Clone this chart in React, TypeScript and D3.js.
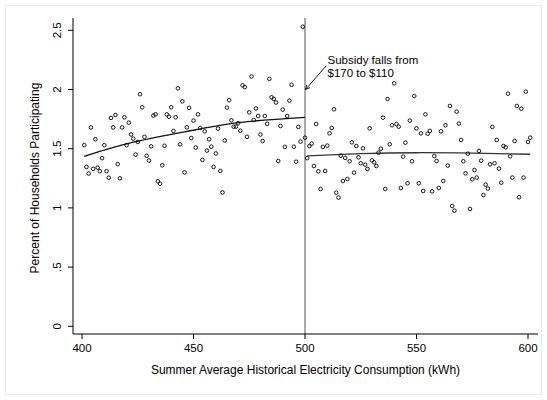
import React from "react";
import * as d3 from "d3";

// Percent of households participating, by summer average historical consumption (kWh)
const consumptionBelow: number[] = d3.range(401, 501);
const participationBelow: number[] = [
  1.53, 1.346, 1.29, 1.68, 1.33, 1.58, 1.34, 1.31, 1.42, 1.53,
  1.31, 1.255, 1.76, 1.68, 1.785, 1.37, 1.25, 1.68, 1.765, 1.53,
  1.72, 1.62, 1.585, 1.45, 1.557, 1.96, 1.85, 1.6, 1.44, 1.4,
  1.52, 1.78, 1.79, 1.225, 1.205, 1.36, 1.525, 1.79, 1.77, 1.85,
  1.65, 1.765, 2.01, 1.537, 1.9, 1.3, 1.68, 1.845, 1.59, 1.737,
  1.51, 1.79, 1.675, 1.405, 1.647, 1.484, 1.58, 1.517, 1.346, 1.46,
  1.67, 1.312, 1.13, 1.57, 1.847, 1.91, 1.74, 1.686, 1.686, 1.715,
  1.652, 2.035, 2.02, 1.6, 1.807, 2.11, 1.743, 1.84, 1.776, 1.62,
  1.565, 1.776, 1.71, 2.09, 1.934, 1.92, 1.89, 1.396, 1.692, 1.83,
  1.515, 1.776, 1.906, 2.04, 1.517, 1.39, 1.684, 1.56, 2.53, 1.593,
];
const consumptionAbove: number[] = d3.range(501, 602);
const participationAbove: number[] = [
  1.42, 1.523, 1.543, 1.354, 1.709, 1.309, 1.16, 1.515, 1.312, 1.526,
  1.63, 1.675, 1.833, 1.129, 1.087, 1.441, 1.227, 1.422, 1.244, 1.394,
  1.554, 1.298, 1.523, 1.427, 1.377, 1.503, 1.365, 1.329, 1.672, 1.402,
  1.385, 1.354, 1.467, 1.5, 1.762, 1.16, 1.92, 1.537, 1.698, 2.052,
  1.709, 1.686, 1.168, 1.433, 1.551, 1.208, 1.737, 1.394, 1.945, 1.672,
  1.208, 1.63, 1.143, 1.79, 1.627, 1.65, 1.14, 1.438, 1.396, 1.168,
  1.647, 1.227, 1.698, 1.357, 1.861, 1.016, 0.977, 1.813, 1.712, 1.574,
  1.394, 1.292, 1.458, 0.991, 1.242, 1.32, 1.256, 1.481, 1.399, 1.109,
  1.196, 1.163, 1.368, 1.684, 1.377, 1.574, 1.332, 1.213, 1.523, 1.512,
  1.965, 1.436, 1.256, 1.565, 1.861, 1.09, 1.838, 1.256, 1.982, 1.557,
  1.593,
];

// Fitted participation on each side of the threshold
const fitBelowX: number[] = [401, 424, 451, 471, 500];
const fitBelowY: number[] = [1.436, 1.559, 1.66, 1.723, 1.765];
const fitAboveX: number[] = [501, 525, 550, 575, 601];
const fitAboveY: number[] = [1.44, 1.458, 1.466, 1.462, 1.453];

const xTicks: number[] = [400, 450, 500, 550, 600];
const yTicks: number[] = [0, 0.5, 1, 1.5, 2, 2.5];
const yTickLabels: string[] = ["0", ".5", "1", "1.5", "2", "2.5"];
const annotationLines: string[] = ["Subsidy falls from", "$170 to $110"];
const threshold = 500;

const FONT = "'Liberation Sans', Arial, Helvetica, sans-serif";

export default function App() {
  const width = 547;
  const height = 400;
  const x = d3.scaleLinear().domain([400, 600]).range([82, 528]);
  const y = d3.scaleLinear().domain([0, 2.5]).range([326.3, 30.3]);
  const axisLeft = 73;
  const axisBottom = 334;
  const plotTop = 18;
  const plotRight = 538;

  const fitLine = d3
    .line<[number, number]>()
    .x((d) => x(d[0]))
    .y((d) => y(d[1]))
    .curve(d3.curveNatural);

  const fitBelow = fitLine(fitBelowX.map((v, i) => [v, fitBelowY[i]] as [number, number])) as string;
  const fitAbove = fitLine(fitAboveX.map((v, i) => [v, fitAboveY[i]] as [number, number])) as string;

  const pointsBelow = consumptionBelow.map((c, i) => [c, participationBelow[i]]);
  const pointsAbove = consumptionAbove.map((c, i) => [c, participationAbove[i]]);

  // arrow from label to threshold line at 2.0
  const ax1 = 326;
  const ay1 = 66;
  const ax2 = x(threshold) + 0.5;
  const ay2 = y(2.0);
  const ang = Math.atan2(ay2 - ay1, ax2 - ax1);
  const headLen = 5;
  const headA = 0.45;
  const h1 = [ax2 - headLen * Math.cos(ang - headA), ay2 - headLen * Math.sin(ang - headA)];
  const h2 = [ax2 - headLen * Math.cos(ang + headA), ay2 - headLen * Math.sin(ang + headA)];

  return (
    <svg
      width={width}
      height={height}
      style={{ position: "absolute", left: 0, top: 0, background: "#fff" }}
      fontFamily={FONT}
    >
      <rect x={0} y={0} width={width} height={height} fill="#ffffff" />
      <rect x={5.5} y={5.5} width={width - 11} height={height - 11} fill="none" stroke="#eaf0f2" strokeWidth={1} />

      {/* threshold */}
      <line x1={x(threshold)} x2={x(threshold)} y1={plotTop} y2={axisBottom} stroke="#555" strokeWidth={1} />

      {/* fitted curves */}
      <path d={fitBelow} fill="none" stroke="#111" strokeWidth={1.3} />
      <path d={fitAbove} fill="none" stroke="#333" strokeWidth={1.3} />

      {/* scatter */}
      {[...pointsBelow, ...pointsAbove].map(([cx, cy], i) => (
        <circle key={i} cx={x(cx)} cy={y(cy)} r={1.8} fill="none" stroke="#000" strokeWidth={0.9} />
      ))}

      {/* axes */}
      <line x1={axisLeft} x2={axisLeft} y1={plotTop} y2={axisBottom} stroke="#000" strokeWidth={1} />
      <line x1={axisLeft} x2={plotRight} y1={axisBottom} y2={axisBottom} stroke="#000" strokeWidth={1} />
      {yTicks.map((t, i) => (
        <g key={t}>
          <line x1={axisLeft - 5} x2={axisLeft} y1={y(t)} y2={y(t)} stroke="#000" strokeWidth={1} />
          <text
            transform={`translate(${57},${y(t)}) rotate(-90)`}
            textAnchor="middle"
            dominantBaseline="central"
            fontSize={11.5}
            fill="#000"
          >
            {yTickLabels[i]}
          </text>
        </g>
      ))}
      {xTicks.map((t) => (
        <g key={t}>
          <line x1={x(t)} x2={x(t)} y1={axisBottom} y2={axisBottom + 5} stroke="#000" strokeWidth={1} />
          <text x={x(t)} y={axisBottom + 14} textAnchor="middle" dominantBaseline="central" fontSize={11.5} fill="#000">
            {t}
          </text>
        </g>
      ))}

      <text
        x={(axisLeft + plotRight) / 2}
        y={370}
        textAnchor="middle"
        dominantBaseline="central"
        fontSize={12}
        fill="#000"
      >
        Summer Average Historical Electricity Consumption (kWh)
      </text>
      <text
        transform={`translate(${35},${178}) rotate(-90)`}
        textAnchor="middle"
        dominantBaseline="central"
        fontSize={12}
        fill="#000"
      >
        Percent of Households Participating
      </text>

      {/* annotation */}
      {annotationLines.map((s, i) => (
        <text key={s} x={327.5} y={64 + i * 13} fontSize={11.5} fill="#000">
          {s}
        </text>
      ))}
      <line x1={ax1} y1={ay1} x2={ax2} y2={ay2} stroke="#000" strokeWidth={0.9} />
      <polyline
        points={`${h1[0]},${h1[1]} ${ax2},${ay2} ${h2[0]},${h2[1]}`}
        fill="none"
        stroke="#000"
        strokeWidth={0.9}
      />
    </svg>
  );
}
